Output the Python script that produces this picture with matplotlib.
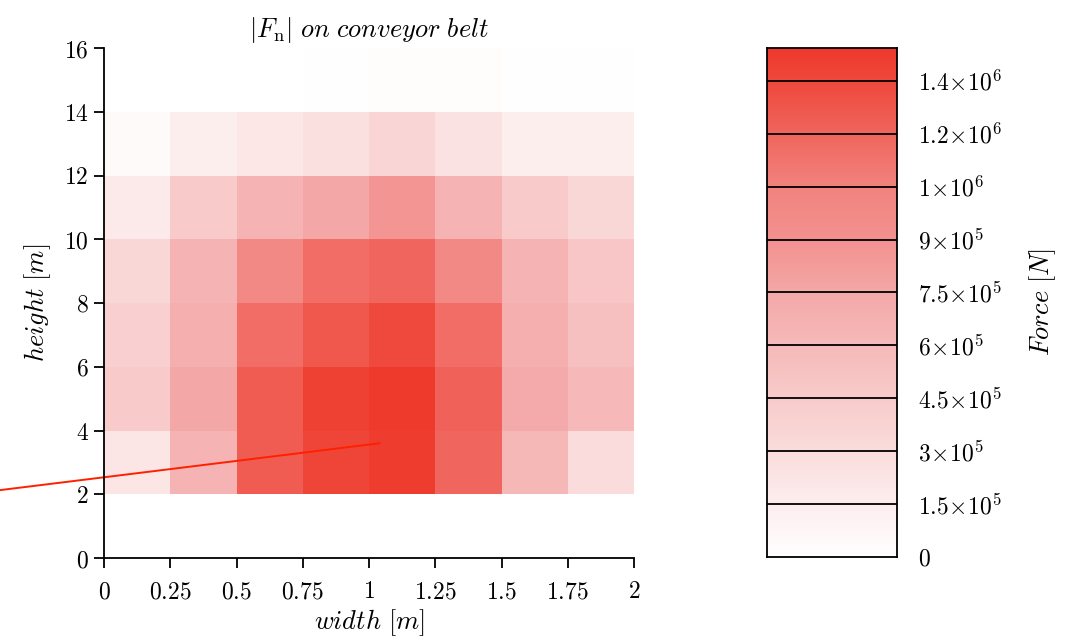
import numpy as np
import matplotlib
matplotlib.use("Agg")
import matplotlib.pyplot as plt
from matplotlib.colors import LinearSegmentedColormap

plt.rcParams['mathtext.fontset'] = 'cm'
plt.rcParams['font.family'] = ['DejaVu Serif']

# ---- data ----
x_edges = [0, 0.25, 0.5, 0.75, 1.0, 1.25, 1.5, 1.75, 2.0]
y_edges = [2, 4, 6, 8, 10, 12, 14, 16]
x_tick_labels = ['0', '0.25', '0.5', '0.75', '1', '1.25', '1.5', '1.75', '2']
y_ticks = [0, 2, 4, 6, 8, 10, 12, 14, 16]

# force values [N], rows from bottom (2-4 m) to top (14-16 m)
row_2_4   = [2.25e5, 6.6e5, 1.27e6, 1.42e6, 1.48e6, 1.20e6, 6.2e5, 3.0e5]
row_4_6   = [4.6e5, 7.6e5, 1.27e6, 1.45e6, 1.50e6, 1.23e6, 7.3e5, 6.1e5]
row_6_8   = [4.2e5, 6.9e5, 1.15e6, 1.30e6, 1.40e6, 1.15e6, 6.9e5, 5.4e5]
row_8_10  = [3.4e5, 6.6e5, 9.6e5, 1.15e6, 1.20e6, 9.6e5, 6.6e5, 4.9e5]
row_10_12 = [1.9e5, 4.6e5, 6.6e5, 7.6e5, 8.8e5, 6.6e5, 4.6e5, 3.4e5]
row_12_14 = [0.45e5, 1.5e5, 2.2e5, 2.7e5, 3.6e5, 2.5e5, 1.5e5, 1.5e5]
row_14_16 = [0.0, 0.0, 0.0, 0.15e5, 0.35e5, 0.25e5, 0.08e5, 0.08e5]

cbar_values = [0, 1.5e5, 3e5, 4.5e5, 6e5, 7.5e5, 9e5, 1e6, 1.2e6, 1.4e6]
cbar_labels = [r'$0$', r'$1.5\!\times\!10^5$', r'$3\!\times\!10^5$', r'$4.5\!\times\!10^5$',
               r'$6\!\times\!10^5$', r'$7.5\!\times\!10^5$', r'$9\!\times\!10^5$',
               r'$1\!\times\!10^6$', r'$1.2\!\times\!10^6$', r'$1.4\!\times\!10^6$']
vmax = 1.5e6

Z = np.array([row_2_4, row_4_6, row_6_8, row_8_10, row_10_12, row_12_14, row_14_16])

cmap = LinearSegmentedColormap.from_list('wr', ['#ffffff', '#f4a8a8', '#ee3a2c'])

W, H = 1066, 637
fig = plt.figure(figsize=(W / 100, H / 100), dpi=100)

# main axes
ax = fig.add_axes([104 / W, (H - 558) / H, 530 / W, 510 / H])
ax.pcolormesh(x_edges, y_edges, Z, cmap=cmap, vmin=0, vmax=vmax, shading='flat')
ax.set_xlim(0, 2)
ax.set_ylim(0, 16)
ax.set_xticks(x_edges)
ax.set_xticklabels([r'$%s$' % s for s in x_tick_labels])
ax.set_yticks(y_ticks)
ax.set_yticklabels([r'$%d$' % v for v in y_ticks])
for s in ['top', 'right']:
    ax.spines[s].set_visible(False)
for s in ['left', 'bottom']:
    ax.spines[s].set_linewidth(1.3)
ax.tick_params(direction='out', length=7, width=1.3, labelsize=17, pad=4)
ax.tick_params(axis='x', pad=9)
ax.set_xlabel(r'$width\ [m]$', fontsize=19, labelpad=3)
ax.set_ylabel(r'$height\ [m]$', fontsize=19, labelpad=8)
ax.set_title(r'$|F_{\mathrm{n}}|\ on\ conveyor\ belt$', fontsize=19, pad=8)

# annotation line
ax.plot([-0.392, 1.04], [2.13, 3.6], color='#ff2000', lw=1.4, clip_on=False)

# colorbar (uniform segment spacing with nonuniform values)
cax = fig.add_axes([767 / W, (H - 557) / H, 130 / W, 509 / H])
top_pos = 9.62
pos = np.linspace(0, top_pos, 600)
vals = np.interp(pos, list(range(len(cbar_values))) + [top_pos], cbar_values + [vmax])
cax.imshow(vals[:, None], origin='lower', aspect='auto', cmap=cmap, vmin=0, vmax=vmax,
           extent=[0, 1, 0, top_pos])
for i in range(1, len(cbar_values)):
    cax.axhline(i, color='black', lw=1.3)
cax.set_xlim(0, 1)
cax.set_ylim(0, top_pos)
cax.set_xticks([])
cax.yaxis.tick_right()
cax.set_yticks(range(len(cbar_values)))
cax.set_yticklabels(cbar_labels)
cax.tick_params(axis='y', length=0, pad=15, labelsize=17)
for s in cax.spines.values():
    s.set_linewidth(1.3)
cax.yaxis.set_label_position('right')
cax.set_ylabel(r'$Force\ [N]$', fontsize=19, labelpad=18)

fig.savefig('out.png', dpi=100)
